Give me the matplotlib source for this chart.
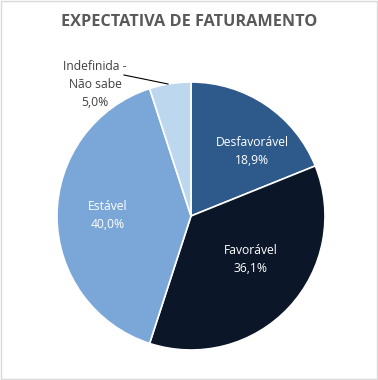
import matplotlib.pyplot as plt
from matplotlib.patches import Rectangle

# dati del grafico
categorie = ["Desfavorável", "Favorável", "Estável", "Indefinida -\nNão sabe"]
valori = [18.9, 36.1, 40.0, 5.0]
colori = ["#2D5A8B", "#0B1729", "#7BA7D8", "#BDD7EF"]

plt.rcParams["font.family"] = ["Open Sans", "DejaVu Sans"]

fig = plt.figure(figsize=(3.78, 3.80), dpi=100)
ax = fig.add_axes([0, 0, 1, 1])

cx, cy, r = 191, 380 - 216, 134

ax.pie(valori, colors=colori, startangle=90, counterclock=False,
       center=(cx, cy), radius=r, frame=True,
       wedgeprops=dict(edgecolor="white", linewidth=1.2))
ax.set_xlim(0, 378)
ax.set_ylim(0, 380)
ax.axis("off")

# etichette dentro le fette
pos_etichette = [(252, 380 - 152), (251, 380 - 260), (108, 380 - 215)]
for (x, y), cat, v in zip(pos_etichette, categorie[:3], valori[:3]):
    ax.text(x, y, f"{cat}\n{v:.1f}%".replace(".", ","), ha="center", va="center",
            color="white", fontsize=8.7, linespacing=1.5)

# etichetta esterna con linea guida
ax.text(95, 380 - 85, f"{categorie[3]}\n{valori[3]:.1f}%".replace(".", ","),
        ha="center", va="center", color="#404040", fontsize=8.7, linespacing=1.5)
ax.plot([124, 168], [380 - 75, 380 - 84], color="black", lw=0.8)

fig.text(0.5, 1 - 22 / 380, "EXPECTATIVA DE FATURAMENTO", ha="center", va="center",
         fontsize=11.7, fontweight="bold", color="#595959")

fig.patches.append(Rectangle((0.002, 0.002), 0.995, 0.995, transform=fig.transFigure,
                             fill=False, edgecolor="#D9D9D9", lw=1))

fig.savefig("out.png", dpi=100)
